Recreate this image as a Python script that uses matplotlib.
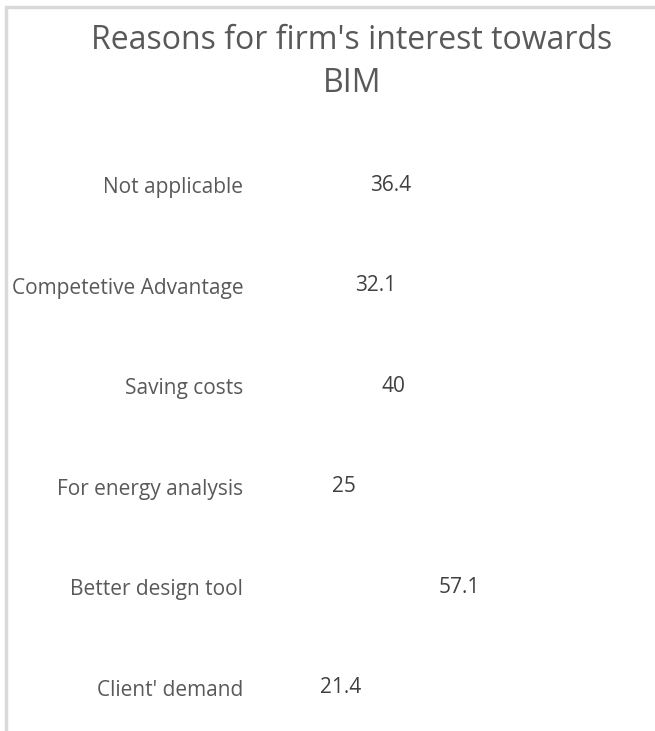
"""Reasons for firm's interest towards BIM - horizontal bar chart with hidden bars."""

import matplotlib

matplotlib.use("Agg")
import matplotlib.pyplot as plt
from matplotlib.patches import Rectangle

W, H, DPI = 655, 731, 100

categories = [
    "Not applicable",
    "Competetive Advantage",
    "Saving costs",
    "For energy analysis",
    "Better design tool",
    "Client' demand",
]
values = [36.4, 32.1, 40, 25, 57.1, 21.4]
value_labels = ["36.4", "32.1", "40", "25", "57.1", "21.4"]
title = "Reasons for firm's interest towards\nBIM"

plt.rcParams["font.family"] = ["Open Sans", "DejaVu Sans"]

fig = plt.figure(figsize=(W / DPI, H / DPI), dpi=DPI)

# light grey chart-area frame (only top and left edges are visible)
fig.add_artist(Rectangle((6 / W, -0.1), 1.2, 1 - 7.5 / H + 0.1,
                         transform=fig.transFigure, fill=False,
                         edgecolor="#d9d9d9", linewidth=2.5))

# plot area in pixels: left 246, right 648, top 135, bottom 738
left, right, top, bottom = 246, 648, 135, 738
ax = fig.add_axes([left / W, 1 - bottom / H, (right - left) / W, (bottom - top) / H])

y = list(range(len(categories)))
bars = ax.barh(y, values, height=0.6, color="none")
ax.bar_label(bars, labels=value_labels, padding=2, fontsize=15, color="#404040")

ax.set_xlim(0, 121)
ax.set_ylim(len(categories) - 0.5, -0.5)
ax.set_yticks(y)
ax.set_yticklabels(categories, fontsize=15, color="#595959")
ax.tick_params(axis="y", length=0, pad=2)
ax.set_xticks([])
for s in ax.spines.values():
    s.set_visible(False)
ax.patch.set_visible(False)

fig.text(352 / W, 1 - 62 / H, title, ha="center", va="center",
         fontsize=23, color="#595959", linespacing=1.4)

fig.savefig("out.png", dpi=DPI)
